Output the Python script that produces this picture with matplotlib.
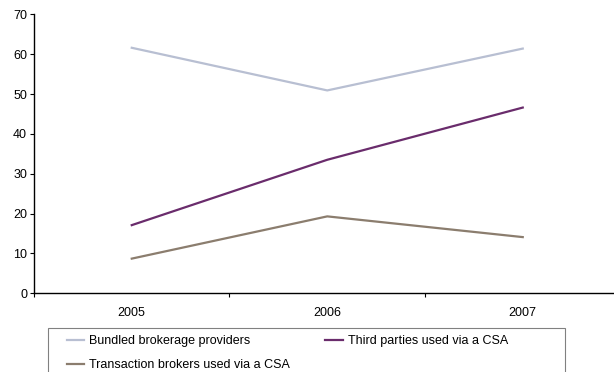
import numpy as np
import matplotlib.pyplot as plt
from matplotlib.patches import Rectangle

# Data
years = ['2005', '2006', '2007']
bundled = [61.6, 50.9, 61.4]
third_parties = [17.1, 33.5, 46.6]
transaction = [8.7, 19.3, 14.1]

plt.rcParams['font.family'] = ['Liberation Sans', 'DejaVu Sans']
plt.rcParams['font.size'] = 9

W, H = 614, 372
fig = plt.figure(figsize=(W / 100, H / 100), dpi=100)

# axes placed in pixel terms (the plot area runs past the right edge)
left, right, top, bottom = 34, 620.5, 14.3, 293.3
ax = fig.add_axes([left / W, 1 - bottom / H, (right - left) / W, (bottom - top) / H])

x = np.arange(len(years))
l1, = ax.plot(x, bundled, color='#B8BFD2', lw=1.6, label='Bundled brokerage providers')
l2, = ax.plot(x, third_parties, color='#6A2C6C', lw=1.6, label='Third parties used via a CSA')
l3, = ax.plot(x, transaction, color='#8B7D6E', lw=1.6, label='Transaction brokers used via a CSA')

ax.set_xlim(-0.5, 2.5)
ax.set_ylim(0, 70)
ax.set_yticks(np.arange(0, 71, 10))
ax.tick_params(axis='y', direction='out', length=3, width=0.8, pad=2, labelsize=9)

ax.set_xticks(x)
ax.set_xticklabels(years)
ax.tick_params(axis='x', which='major', length=0, pad=10, labelsize=9)
ax.set_xticks([-0.5, 0.5, 1.5, 2.5], minor=True)
ax.tick_params(axis='x', which='minor', direction='out', length=3, width=0.8)

for s in ['top', 'right']:
    ax.spines[s].set_visible(False)
for s in ['left', 'bottom']:
    ax.spines[s].set_linewidth(1.0)

# legend box (bottom runs off the figure, as in the original)
fig.patches.append(Rectangle((47.5 / W, -0.05), (565 - 47.5) / W, 0.05 + 1 - 327.7 / H,
                             transform=fig.transFigure, fill=False,
                             edgecolor='#808080', lw=0.8))

# column-wise fill: bundled / transaction in col 1, third parties in col 2
leg = fig.legend(handles=[l1, l3, l2], ncol=2, frameon=False,
                 loc='upper left', bbox_to_anchor=(66.5 / W, 1 - 335 / H),
                 borderpad=0, borderaxespad=0, handlelength=1.41,
                 handletextpad=0.4, columnspacing=2.8, labelspacing=0.95,
                 fontsize=9)

fig.savefig('out.png', dpi=100)
